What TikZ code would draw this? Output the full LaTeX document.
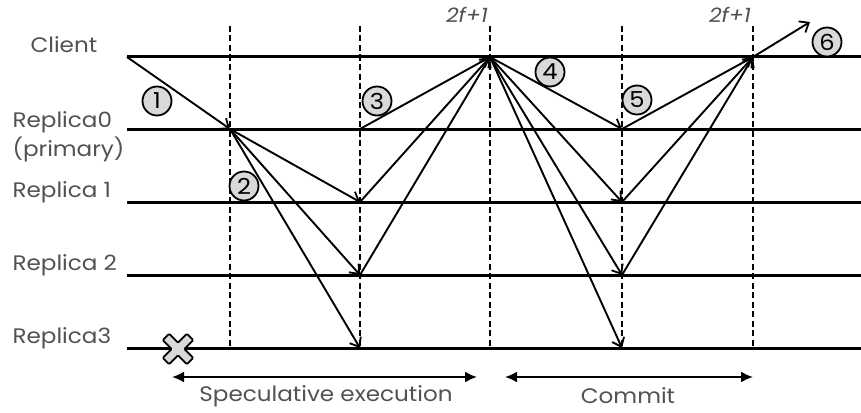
\documentclass[tikz,border=0pt]{standalone}
\usepackage{fontspec}
\setmainfont{Poppins}[FakeStretch=1.1]
\usetikzlibrary{arrows,arrows.meta,positioning}

\begin{document}
\begin{tikzpicture}[x=1pt,y=-1pt,
  timeline/.style={line width=3pt},
  phase/.style={dashed,dash pattern=on 6pt off 3.5pt,line width=1.6pt},
  msg/.style={-{Straight Barb[length=8pt,width=13pt,line width=1.8pt]},line width=1.9pt},
  span/.style={{Latex[length=12pt,width=11pt]}-{Latex[length=12pt,width=11pt]},line width=2pt},
  lbl/.style={text=black!68,font=\fontsize{21}{23}\selectfont},
  num/.style={circle,draw,line width=1.8pt,fill=black!15,inner sep=0pt,minimum size=29pt,font=\fontsize{22}{22}\selectfont}]

\useasboundingbox (0,0) rectangle (861,412);

\foreach \name/\y in {c/57,r0/129,r1/202,r2/275,r3/348} {
  \coordinate (\name-start) at (127,\y);
  \coordinate (\name-end) at (861,\y);
  \foreach \t/\x in {1/230,2/360,3/490,4/622,5/753}
    \coordinate (\name-\t) at (\x,\y);
}
\foreach \t/\x in {1/230,2/360,3/490,4/622,5/753}
  \coordinate (top-\t) at (\x,26);

\foreach \t in {1,...,5}
  \draw[phase] (top-\t) -- (r3-\t);
\foreach \name in {c,r0,r1,r2,r3}
  \draw[timeline] (\name-start) -- (\name-end);

\node[lbl,anchor=west] (client) at (27,45) {Client};
\node[lbl,anchor=west] (rep0) at (9,122) {Replica0};
\node[lbl,anchor=west] (primary) at (9,149) {(primary)};
\node[lbl,anchor=west] (rep1) at (9,192) {Replica 1};
\node[lbl,anchor=west] (rep2) at (9,265) {Replica 2};
\node[lbl,anchor=west] (rep3) at (9,338) {Replica3};

\node[lbl,font=\fontsize{20}{22}\selectfont\itshape] (quorum1) at (467,15) {2f+1};
\node[lbl,font=\fontsize{20}{22}\selectfont\itshape] (quorum2) at (730,15) {2f+1};

\draw[msg] (c-start) -- (r0-1);
\foreach \r in {r1,r2,r3}
  \draw[msg] (r0-1) -- (\r-2);
\foreach \r in {r0,r1,r2}
  \draw[msg] (\r-2) -- (c-3);
\foreach \r in {r0,r1,r2,r3}
  \draw[msg] (c-3) -- (\r-4);
\foreach \r in {r0,r1,r2}
  \draw[msg] (\r-4) -- (c-5);
\coordinate (reply) at (810,22);
\draw[msg] (c-5) -- (reply);

\node[num] (n1) at (157,101) {1};
\node[num] (n2) at (244,186) {2};
\node[num] (n3) at (377,101) {3};
\node[num] (n4) at (550,72) {4};
\node[num] (n5) at (637,100) {5};
\node[num] (n6) at (827,42) {6};

\begin{scope}[shift={(178,349)},rotate=45]
\draw[line width=1.8pt,fill=black!15,rounded corners=1pt]
  (4.5,4.5) -- (17,4.5) -- (17,-4.5) -- (4.5,-4.5) -- (4.5,-17) -- (-4.5,-17)
  -- (-4.5,-4.5) -- (-17,-4.5) -- (-17,4.5) -- (-4.5,4.5) -- (-4.5,17) -- (4.5,17) -- cycle;
\end{scope}

\coordinate (spec-l) at (172,377);
\coordinate (spec-r) at (477,377);
\draw[span] (spec-l) -- (spec-r);
\node[lbl] (spec) at (326,396) {Speculative execution};
\coordinate (commit-l) at (505,377);
\coordinate (commit-r) at (753,377);
\draw[span] (commit-l) -- (commit-r);
\node[lbl] (commit) at (628,396) {Commit};
\end{tikzpicture}
\end{document}
